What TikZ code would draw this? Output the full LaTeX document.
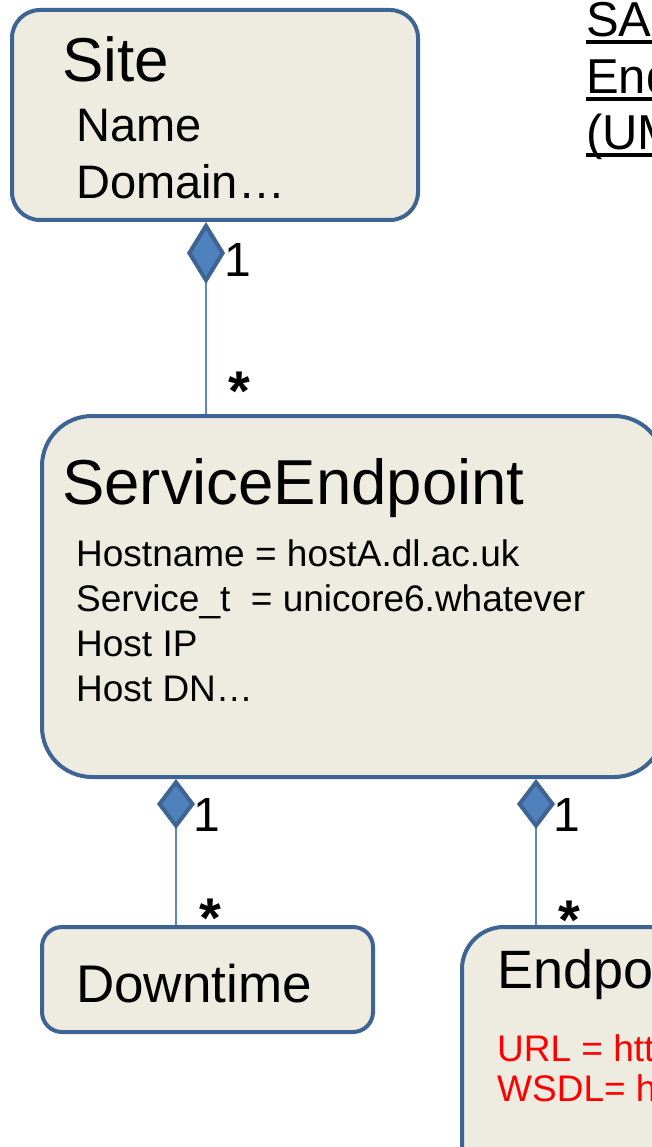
\documentclass[tikz,border=0pt]{standalone}
\usepackage{fontspec}
\setmainfont{Liberation Sans}
\usetikzlibrary{arrows.meta}
\definecolor{boxfill}{HTML}{EEECE1}
\definecolor{boxline}{HTML}{3E6493}
\definecolor{diamfill}{HTML}{4F81BD}
\definecolor{linkline}{HTML}{5B87C0}
\newlength\ulheadwd
\newcommand{\ulhead}[1]{\settowidth{\ulheadwd}{#1}\rlap{#1}\rule[-7pt]{\ulheadwd}{3.5pt}}

\begin{document}
\begin{tikzpicture}
    [x=1pt, y=-1pt,
    umlclass/.style={rectangle, draw=boxline, fill=boxfill, line width=4pt, anchor=north west},
    classname/.style={anchor=base west, inner sep=0pt, font=\fontsize{62}{62}\selectfont},
    attrline/.style={anchor=base west, inner sep=0pt, font=\fontsize{37}{37}\selectfont},
    siteattr/.style={anchor=base west, inner sep=0pt, font=\fontsize{47}{47}\selectfont},
    multone/.style={anchor=center, inner sep=0pt, font=\fontsize{48}{48}\selectfont},
    multmany/.style={anchor=base, inner sep=0pt, font=\bfseries\fontsize{56}{56}\selectfont},
    composition/.style={draw=linkline, line width=2.5pt,
        {Diamond[length=#1, width=38pt, fill=diamfill, color=boxline, line width=4pt]}-},
    composition/.default=50pt
    ]
    \useasboundingbox (0,0) rectangle (652,1147);
    \fill[white] (0,0) rectangle (652,1147);
    \clip (0,0) rectangle (652,1147);

    \node[umlclass, rounded corners=28pt, minimum width=406pt, minimum height=210pt] (site) at (10,8) {};
    \node[classname] (sitetitle) at (62,82) {Site};
    \node[siteattr] (sitename) at (76,142) {Name};
    \node[siteattr] (sitedomain) at (76,199) {Domain…};

    \node[siteattr, font=\fontsize{49}{49}\selectfont] (head1) at (586,37) {\ulhead{SAGA Service}};
    \node[siteattr, font=\fontsize{49}{49}\selectfont] (head2) at (586,94) {\ulhead{Endpoint Model}};
    \node[siteattr, font=\fontsize{49}{49}\selectfont] (head3) at (586,150) {\ulhead{(UML)}};

    \node[umlclass, rounded corners=50pt, minimum width=622pt, minimum height=361pt] (se) at (40,414) {};
    \node[classname, font=\fontsize{63.5}{63.5}\selectfont] (setitle) at (62,504) {ServiceEndpoint};
    \node[attrline] (sehost) at (76,566) {Hostname = hostA.dl.ac.uk};
    \node[attrline] (seservice) at (76,611) {Service\_t\ \ = unicore6.whatever};
    \node[attrline] (seip) at (76,656) {Host IP};
    \node[attrline] (sedn) at (76,701) {Host DN…};

    \node[umlclass, rounded corners=20pt, minimum width=331pt, minimum height=105pt] (down) at (40,925) {};
    \node[anchor=base west, inner sep=0pt, font=\fontsize{53}{53}\selectfont] (downtitle) at (76,1002) {Downtime};

    \node[umlclass, rounded corners=42pt, minimum width=400pt, minimum height=260pt] (ep) at (460,925) {};
    \node[anchor=base west, inner sep=0pt, font=\fontsize{54}{54}\selectfont] (eptitle) at (497,988) {Endpoint};
    \node[attrline, text=red] (epurl) at (497,1061) {URL = http://};
    \node[attrline, text=red] (epwsdl) at (497,1101) {WSDL= http://};

    \coordinate (c1) at (206,0);
    \coordinate (c2) at (176,0);
    \coordinate (c3) at (536,0);
    \draw[composition=62pt] (site.south -| c1) -- (se.north -| c1);
    \draw[composition] (se.south -| c2) -- (down.north -| c2);
    \draw[composition] (se.south -| c3) -- (ep.north -| c3);

    \node[multone] (m1) at (238,260) {1};
    \node[multmany] (n1) at (239,410) {*};
    \node[multone] (m2) at (207,815) {1};
    \node[multmany] (n2) at (210,937) {*};
    \node[multone] (m3) at (567,815) {1};
    \node[multmany] (n3) at (569,939) {*};
\end{tikzpicture}
\end{document}
